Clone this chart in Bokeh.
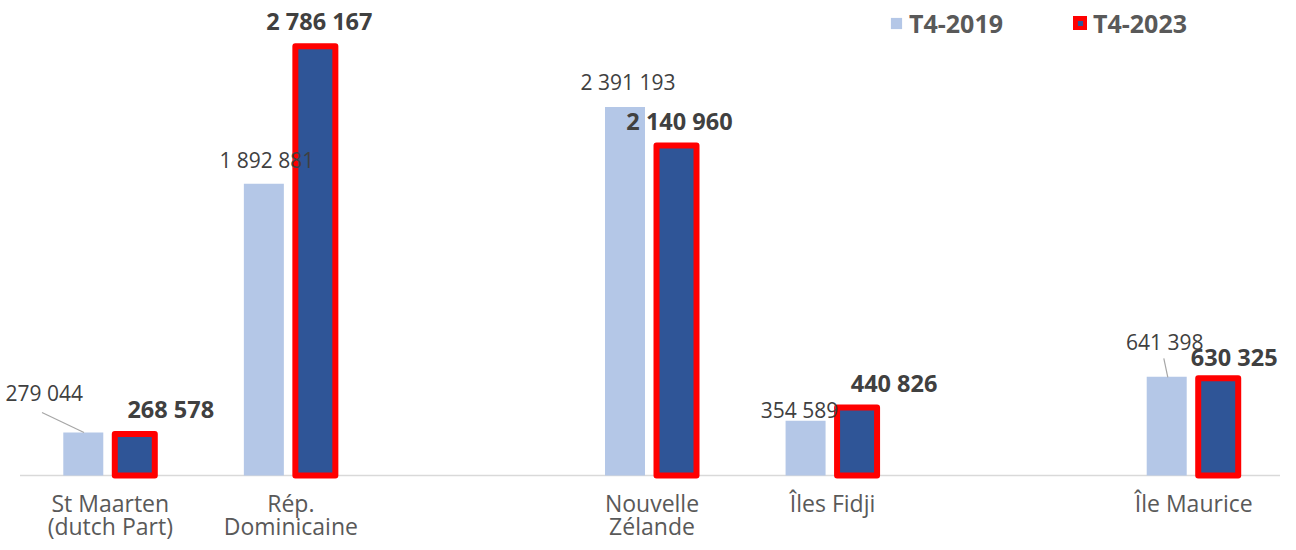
from bokeh.plotting import figure
from bokeh.models import Range1d, Legend, LegendItem, ColumnDataSource
from bokeh.core.properties import value
from bokeh.embed import file_html
from bokeh.resources import INLINE

# ---------------- data ----------------
categories = ["St Maarten\n(dutch Part)", "Rép.\nDominicaine", "", "Nouvelle\nZélande",
              "Îles Fidji", "", "Île Maurice"]
t4_2019 = [279044, 1892881, None, 2391193, 354589, None, 641398]
t4_2023 = [268578, 2786167, None, 2140960, 440826, None, 630325]
series_names = ["T4-2019", "T4-2023"]

# ---------------- layout / style (canvas pixels) ----------------
W, H = 1280, 542
N = len(categories)
SLOT_PX = 1264 / N
LEFT_PAD = 19.5
BASE_PX = 475                      # baseline distance from canvas top
PX_PER_VAL = 154.1e-6
CAT_LINE1, CAT_LINE2 = 27, 50      # category label line centres below baseline

LIGHT = "#b4c7e7"
DARK = "#2f5597"
RED = "#ff0000"
NUM_COLOR = "#404040"
CAT_COLOR = "#595959"
FONT = "Open Sans"

BAR_W = 40 / SLOT_PX
OFF_A = -27 / SLOT_PX
OFF_B = 24.5 / SLOT_PX

# label offsets in pixels (dx, dy) relative to bar top centre
lab_off_2019 = [(-39, -39), (3, -24), None, (3, -25.5), (-6, -11), None, (-2, -35)]
lab_off_2023 = [(36, -25), (4, -25.6), None, (3, -25), (37, -25), None, (16, -21)]
# leader lines (start dx,dy -> end dx,dy) in pixels
leaders_2019 = {0: ((-41.3, -20), (0.7, 0)), 6: ((-2.9, -18.2), (1.1, 0.8))}


def fmt(v):
    return f"{v:,}".replace(",", " ")


x_start = -0.5 - LEFT_PAD / SLOT_PX
x_end = x_start + W / SLOT_PX
y_end = BASE_PX / PX_PER_VAL
y_start = -(H - BASE_PX) / PX_PER_VAL

p = figure(width=W, height=H, x_range=Range1d(x_start, x_end), y_range=Range1d(y_start, y_end),
           min_border_left=0, min_border_right=0, min_border_top=0, min_border_bottom=0,
           x_axis_location=None, y_axis_location=None,
           output_backend="svg", toolbar_location=None, outline_line_color=None)
p.grid.visible = False
p.background_fill_color = "white"
p.border_fill_color = "white"

idx = [i for i in range(N) if t4_2019[i] is not None]

src_a = ColumnDataSource(dict(x=[i + OFF_A for i in idx], top=[t4_2019[i] for i in idx]))
src_b = ColumnDataSource(dict(x=[i + OFF_B for i in idx], top=[t4_2023[i] for i in idx]))

# baseline (category axis line)
p.segment(x0=[-0.5], y0=[0], x1=[N - 0.5], y1=[0], line_color="#d9d9d9", line_width=1.5)

ra = p.vbar(x="x", top="top", bottom=0, width=BAR_W, source=src_a,
            fill_color=LIGHT, line_color=None)
rb = p.vbar(x="x", top="top", bottom=0, width=BAR_W, source=src_b,
            fill_color=DARK, line_color=RED, line_width=6, line_join="round")

# leader lines
lx0, ly0, lx1, ly1 = [], [], [], []
for i, ((sx, sy), (ex, ey)) in leaders_2019.items():
    bx = i + OFF_A
    v = t4_2019[i]
    lx0.append(bx + sx / SLOT_PX); ly0.append(v - sy / PX_PER_VAL)
    lx1.append(bx + ex / SLOT_PX); ly1.append(v - ey / PX_PER_VAL)
p.segment(x0=lx0, y0=ly0, x1=lx1, y1=ly1, line_color="#a6a6a6", line_width=1.2)

# data labels
la = ColumnDataSource(dict(x=[i + OFF_A for i in idx], y=[t4_2019[i] for i in idx],
                           text=[fmt(t4_2019[i]) for i in idx],
                           xo=[lab_off_2019[i][0] for i in idx], yo=[lab_off_2019[i][1] for i in idx]))
lb = ColumnDataSource(dict(x=[i + OFF_B for i in idx], y=[t4_2023[i] for i in idx],
                           text=[fmt(t4_2023[i]) for i in idx],
                           xo=[lab_off_2023[i][0] for i in idx], yo=[lab_off_2023[i][1] for i in idx]))
p.text(x="x", y="y", text="text", x_offset="xo", y_offset="yo", source=la,
       text_font=value(FONT), text_font_size="21px", text_color=NUM_COLOR,
       text_align="center", text_baseline="middle")
p.text(x="x", y="y", text="text", x_offset="xo", y_offset="yo", source=lb,
       text_font=value(FONT), text_font_size="23.5px", text_font_style="bold", text_color=NUM_COLOR,
       text_align="center", text_baseline="middle")

# category labels (one text glyph per line)
line1 = [categories[i].split("\n")[0] for i in idx]
line2 = [(categories[i].split("\n") + [""])[1] for i in idx]
for txt, off in ((line1, CAT_LINE1), (line2, CAT_LINE2)):
    p.text(x=idx, y=[0] * len(idx), text=txt, y_offset=off,
           text_font=value(FONT), text_font_size="23px", text_color=CAT_COLOR,
           text_align="center", text_baseline="middle")

# legend
legend = Legend(items=[LegendItem(label=series_names[0], renderers=[ra]),
                       LegendItem(label=series_names[1], renderers=[rb])],
                orientation="horizontal", location=(889, H - 40),
                glyph_width=14, glyph_height=14, label_standoff=6, spacing=70,
                padding=0, margin=0, border_line_color=None, background_fill_alpha=0,
                label_text_font=FONT, label_text_font_size="25px", label_text_font_style="bold",
                label_text_color=CAT_COLOR)
p.add_layout(legend)

open("out.html", "w").write(file_html(p, INLINE))
